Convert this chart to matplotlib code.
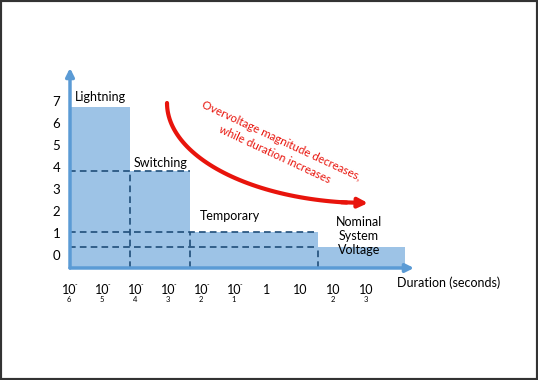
import numpy as np
import matplotlib.pyplot as plt
from matplotlib.patches import Rectangle
from matplotlib.transforms import blended_transform_factory

plt.rcParams['font.family'] = ['Lato', 'DejaVu Sans']

# schematic data (x in log10 seconds, y in per-unit levels)
categories = ['Lightning', 'Switching', 'Temporary', 'Nominal\nSystem\nVoltage']
x_left = [-6.0, -4.15, -2.33, 1.55]
x_right = [-4.15, -2.33, 1.55, 4.18]
levels = [6.73, 3.82, 1.05, 0.36]
floor = -0.6
y_ticks = [0, 1, 2, 3, 4, 5, 6, 7]
x_ticks = [-6, -5, -4, -3, -2, -1, 0, 1, 2, 3]
x_base = ['10', '10', '10', '10', '10', '10', '1', '10', '10', '10']
x_sup = ['-', '-', '-', '-', '-', '-', '', '', '', '']
x_sub = ['6', '5', '4', '3', '2', '1', '', '', '2', '3']

W, H = 538, 380
fig = plt.figure(figsize=(W/100, H/100), dpi=100)
# axes rect in pixels: left 70, right 414, top 68, bottom 268
ax = fig.add_axes([70/W, 1-268/H, (414-70)/W, (268-68)/H])
ax.set_xlim(-6 + (70-69)/33, -6 + (414-69)/33)
ax.set_ylim(floor, (268-68)/22 + floor)
for s in ax.spines.values():
    s.set_visible(False)

bar_c = '#9dc3e6'
ax.bar(x_left, np.array(levels) - floor, width=np.array(x_right) - np.array(x_left),
       bottom=floor, align='edge', color=bar_c, edgecolor='none', zorder=1)

dash_c = '#1f4e79'
dkw = dict(color=dash_c, lw=1.2, linestyle=(0, (4, 2.5)), zorder=3)
# horizontal dashed levels
ax.plot([x_left[0], x_right[1]], [levels[1], levels[1]], **dkw)
ax.plot([x_left[0], x_right[2]], [levels[2], levels[2]], **dkw)
ax.plot([x_left[0], x_right[2]], [levels[3], levels[3]], **dkw)
# vertical dashed boundaries
ax.plot([x_right[0], x_right[0]], [floor, levels[1]], **dkw)
ax.plot([x_right[1], x_right[1]], [floor, levels[2]], **dkw)
ax.plot([x_right[2], x_right[2]], [floor, levels[3]], **dkw)

# axes with arrows
axis_c = '#5b9bd5'
ax.annotate('', xy=(0, 1.0), xytext=(0, 0), xycoords='axes fraction',
            arrowprops=dict(arrowstyle='-|>', color=axis_c, lw=2.5, mutation_scale=12, shrinkA=0, shrinkB=0))
ax.annotate('', xy=(1.0, 0), xytext=(0, 0), xycoords='axes fraction',
            arrowprops=dict(arrowstyle='-|>', color=axis_c, lw=2.5, mutation_scale=12, shrinkA=0, shrinkB=0))

ax.set_yticks(y_ticks)
ax.set_yticklabels([str(t) for t in y_ticks], fontsize=9.5)
ax.tick_params(axis='y', length=0, pad=7)
ax.set_xticks([])

tr = blended_transform_factory(ax.transData, ax.transAxes)
for xt, b, sp, sb in zip(x_ticks, x_base, x_sup, x_sub):
    ax.text(xt, -0.11, b, transform=tr, ha='center', va='center', fontsize=9)
    if sp:
        ax.text(xt + 0.22, -0.085, sp, transform=tr, ha='center', va='center', fontsize=5)
    if sb:
        ax.text(xt, -0.16, sb, transform=tr, ha='center', va='center', fontsize=5.5)

fig.text(397/W, 1-283/H, 'Duration (seconds)', ha='left', va='center', fontsize=9)

# category labels
lab_pos = [(-5.06, 7.17), (-3.24, 4.17), (-1.12, 1.76), (2.79, 0.85)]
for name, (lx, ly) in zip(categories, lab_pos):
    ax.text(lx, ly, name, ha='center', va='center', fontsize=9, linespacing=1.2, zorder=4)

# red curved arrow (quarter ellipse)
x0, y0 = -3.03, 6.9
x1, y1 = 3.06, 2.35
t = np.linspace(0, np.pi/2, 60)
cx = x1 - (x1 - x0)*np.cos(t)
cy = y0 - (y0 - y1)*np.sin(t)
ax.plot(cx[:-4], cy[:-4], color='#e8140c', lw=3, solid_capstyle='round', zorder=5)
ax.annotate('', xy=(x1, y1), xytext=(cx[-6], cy[-6]),
            arrowprops=dict(arrowstyle='-|>', color='#e8140c', lw=3, mutation_scale=14, shrinkA=0, shrinkB=0), zorder=5)
ax.text(0.33, 4.85, 'Overvoltage magnitude decreases,\nwhile duration increases', color='#e8140c',
        fontsize=8.3, rotation=-25, rotation_mode='anchor', ha='center', va='center', linespacing=1.45)

fig.patches.append(Rectangle((0, 0), 1, 1, transform=fig.transFigure, fill=False,
                             edgecolor='#333333', lw=3))
fig.savefig('out.png', dpi=100)
